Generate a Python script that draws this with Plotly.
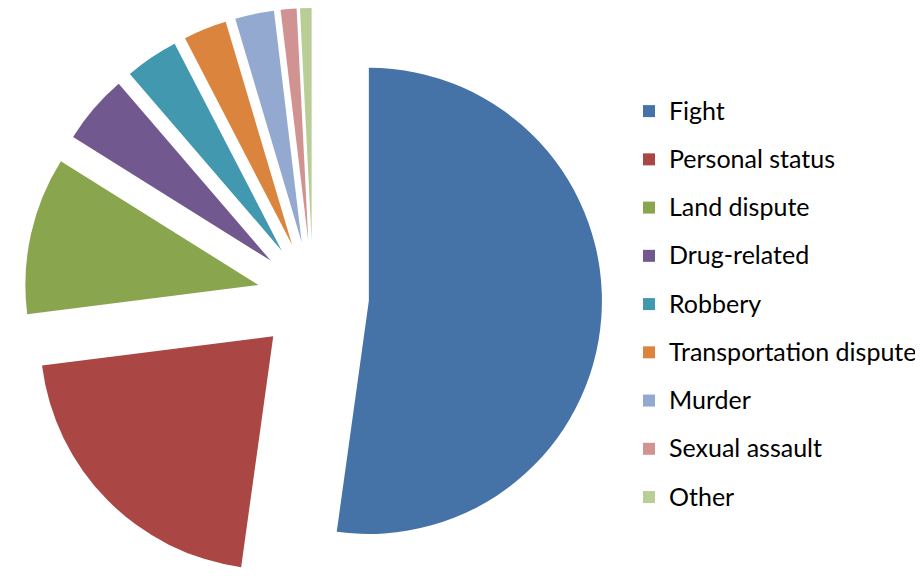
import plotly.graph_objects as go

categories = ["Fight", "Personal status", "Land dispute", "Drug-related", "Robbery",
              "Transportation dispute", "Murder", "Sexual assault", "Other"]
values = [52.2, 20.8, 10.9, 4.8, 3.7, 3.0, 2.7, 1.1, 0.8]
colors = ["#4572A7", "#AA4643", "#89A54E", "#71588F", "#4198AF",
          "#DB843D", "#93A9CF", "#D19392", "#B9CD96"]

legend_labels = ['<span style="font-size:25px;baseline-shift:5px">%s</span>' % c for c in categories]

fig = go.Figure(go.Pie(
    labels=legend_labels,
    values=values,
    sort=False,
    direction="clockwise",
    rotation=0,
    pull=[0.24] * len(values),
    marker=dict(colors=colors, line=dict(width=0)),
    textinfo="none",
    hoverinfo="skip",
    domain=dict(x=[0, 0.661], y=[0, 1]),
))

fig.update_layout(
    width=923, height=578,
    margin=dict(l=0, r=0, t=0, b=0),
    paper_bgcolor="white",
    font=dict(family="Lato", color="black"),
    legend=dict(
        x=621 / 923, xanchor="left",
        y=1 - 74 / 578, yanchor="top",
        font=dict(size=34.8, family="Lato", color="black"),
        bgcolor="rgba(0,0,0,0)",
        itemclick=False,
    ),
    showlegend=True,
)

fig.write_html("out.html")
